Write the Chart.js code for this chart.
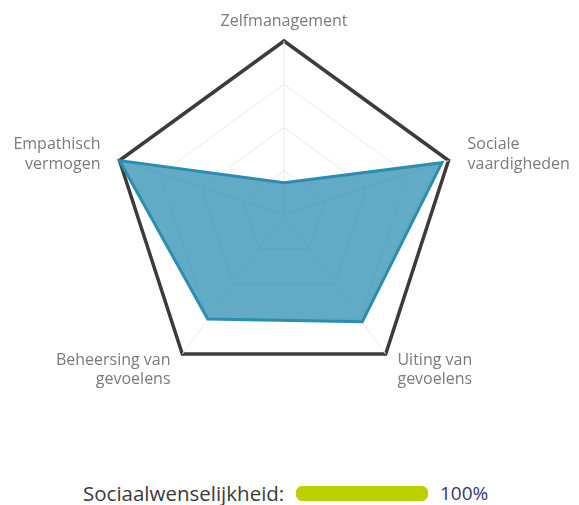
<!DOCTYPE html>
<html>
<head>
<meta charset="utf-8">
<script src="https://cdn.jsdelivr.net/npm/chart.js@4"></script>
<style>
  html, body { margin: 0; padding: 0; background: #fff; }
  body { width: 579px; height: 505px; position: relative; overflow: hidden; font-family: "Open Sans", sans-serif; }
  #radarWrap { position: absolute; left: 0; top: 0; width: 579px; height: 420px; }
  #legend { position: absolute; left: 0; top: 481px; width: 579px; height: 24px; }
  #lgText { position: absolute; left: 83px; top: 0; font-size: 20.5px; color: #3a3a3a; line-height: 24px; }
  #barWrap { position: absolute; left: 296px; top: 5px; width: 132px; height: 15px; }
  #lgVal { position: absolute; left: 440px; top: 0; font-size: 19px; color: #33386a; line-height: 24px; }
</style>
</head>
<body>
<div id="radarWrap"><canvas id="radar"></canvas></div>
<div id="legend">
  <span id="lgText"></span>
  <div id="barWrap"><canvas id="bar"></canvas></div>
  <span id="lgVal"></span>
</div>
<script>
const categories = [
  "Zelfmanagement",
  ["Sociale", "vaardigheden"],
  ["Uiting van", "gevoelens"],
  ["Beheersing van", "gevoelens"],
  ["Empathisch", "vermogen"]
];
const scores = [18, 96, 77, 75, 100];
const scaleTicks = [0, 25, 50, 75, 100];
const socialLabel = "Sociaalwenselijkheid:";
const socialValue = [100];

const tickMax = scaleTicks[scaleTicks.length - 1];

// Draws the axis labels next to each spoke, using the scale's own point positions.
const pointLabelPlugin = {
  id: 'pointLabelPlugin',
  afterDraw(chart) {
    const scale = chart.scales.r;
    const ctx = chart.ctx;
    const pad = 20;
    const lineH = 19.5;
    ctx.save();
    ctx.font = '16px "Open Sans", sans-serif';
    ctx.fillStyle = '#7a7a7a';
    ctx.textBaseline = 'middle';
    chart.data.labels.forEach((lab, i) => {
      const lines = Array.isArray(lab) ? lab : [lab];
      const p = scale.getPointPosition(i, scale.drawingArea + pad);
      const dx = p.x - scale.xCenter;
      ctx.textAlign = Math.abs(dx) < 2 ? 'center' : (dx > 0 ? 'left' : 'right');
      const y0 = p.y - (lines.length - 1) * lineH / 2;
      lines.forEach((t, k) => ctx.fillText(t, p.x, y0 + k * lineH));
    });
    ctx.restore();
  }
};

new Chart(document.getElementById('radar'), {
  type: 'radar',
  data: {
    labels: categories,
    datasets: [{
      data: scores,
      backgroundColor: 'rgba(30,135,175,0.7)',
      borderColor: '#2b8db0',
      borderWidth: 3,
      pointRadius: 0,
      pointHoverRadius: 0,
      fill: true
    }]
  },
  options: {
    responsive: true,
    maintainAspectRatio: false,
    animation: false,
    layout: { padding: { top: 41, bottom: 33, left: 111, right: 122 } },
    plugins: { legend: { display: false }, tooltip: { enabled: false } },
    scales: {
      r: {
        min: scaleTicks[0],
        max: tickMax,
        afterBuildTicks: (s) => { s.ticks = scaleTicks.map(v => ({ value: v })); },
        ticks: { display: false },
        grid: {
          color: (ctx) => ctx.tick && ctx.tick.value === tickMax ? '#3b3b3b' : '#e9e9e9',
          lineWidth: (ctx) => ctx.tick && ctx.tick.value === tickMax ? 3.5 : 1
        },
        angleLines: { color: '#e9e9e9', lineWidth: 1 },
        pointLabels: { display: false }
      }
    }
  },
  plugins: [pointLabelPlugin]
});

document.getElementById('lgText').textContent = socialLabel;
document.getElementById('lgVal').textContent = socialValue[0] + '%';

new Chart(document.getElementById('bar'), {
  type: 'bar',
  data: {
    labels: [''],
    datasets: [{
      data: socialValue,
      backgroundColor: '#bccf00',
      borderRadius: 8,
      borderSkipped: false,
      barPercentage: 1,
      categoryPercentage: 1
    }]
  },
  options: {
    indexAxis: 'y',
    responsive: true,
    maintainAspectRatio: false,
    animation: false,
    layout: { padding: 0 },
    plugins: { legend: { display: false }, tooltip: { enabled: false } },
    scales: {
      x: { display: false, min: 0, max: 100 },
      y: { display: false }
    }
  }
});
</script>
</body>
</html>
